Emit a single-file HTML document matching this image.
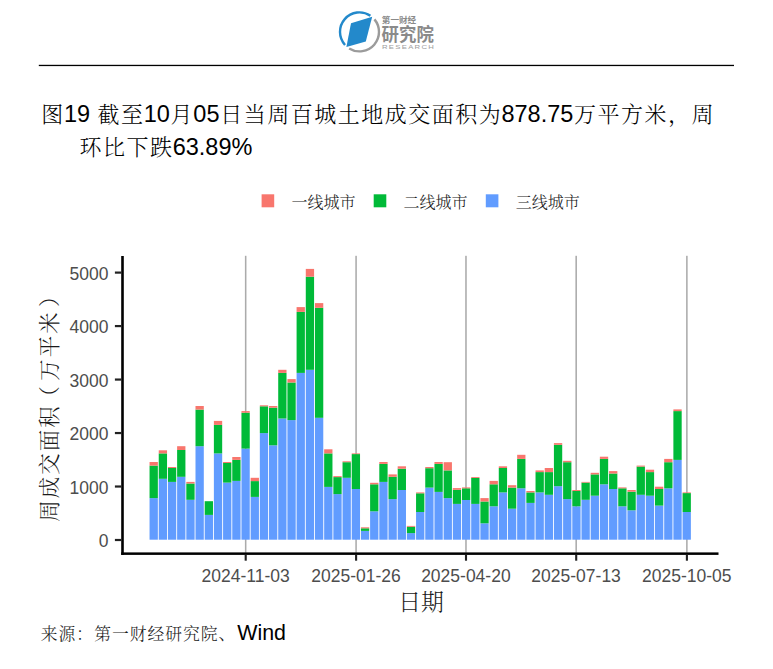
<!DOCTYPE html>
<html lang="zh-CN">
<head>
<meta charset="utf-8">
<title>图19 百城土地成交面积</title>
<style>
html,body{margin:0;padding:0;background:#fff;}
body{width:773px;height:669px;overflow:hidden;position:relative;}
svg{position:absolute;left:0;top:0;display:block;}
.cn{font-family:"Liberation Sans","Noto Serif CJK SC",serif;font-weight:300;}
.ax{font-family:"Liberation Sans",sans-serif;font-size:17.5px;fill:#4D4D4D;}
.lg{font-family:"Liberation Sans","Noto Serif CJK SC",serif;font-size:16px;fill:#1a1a1a;font-weight:300;}
.logo{font-family:"Liberation Sans","Noto Sans CJK SC",sans-serif;fill:#8a8a8a;font-weight:bold;}
</style>
</head>
<body>
<svg width="773" height="669" viewBox="0 0 773 669">
<rect x="0" y="0" width="773" height="669" fill="#ffffff"/>
<g id="logo">
<path d="M 370.40 15.73 A 19.5 19.5 0 0 0 345.01 44.95" fill="none" stroke="#2389CB" stroke-width="2.4"/>
<path d="M 374.44 19.37 A 19.5 19.5 0 0 1 349.17 48.44" fill="none" stroke="#9b9b9b" stroke-width="2.4"/>
<polygon points="351.0,23.3 372.2,16.8 365.8,41.4 346.4,47.0" fill="#2389CB"/>
<text class="logo" x="381.8" y="23.4" font-size="8.4" textLength="34.4" lengthAdjust="spacingAndGlyphs">第一财经</text>
<text class="logo" x="381.6" y="40.6" font-size="18" textLength="52.2" lengthAdjust="spacingAndGlyphs">研究院</text>
<text class="logo" transform="translate(382,48.6) scale(1.43,1)" font-size="5.4" letter-spacing="0.9" style="font-weight:normal;fill:#9c9c9c">RESEARCH</text>
</g>
<rect x="38.8" y="64.8" width="695.2" height="1.3" fill="#000"/>
<text class="cn" x="40.5" y="122.0" font-size="23.5" fill="#000"><tspan font-size="21.97" letter-spacing="1.53" dx="0.77">图</tspan><tspan font-size="23.5" dx="-0.77">19 </tspan><tspan font-size="21.97" letter-spacing="1.53" dx="0.77">截至</tspan><tspan font-size="23.5" dx="-0.77">10</tspan><tspan font-size="21.97" letter-spacing="1.53" dx="0.77">月</tspan><tspan font-size="23.5" dx="-0.77">05</tspan><tspan font-size="21.97" letter-spacing="1.53" dx="0.77">日当周百城土地成交面积为</tspan><tspan font-size="23.5" dx="-0.77">878.75</tspan><tspan font-size="21.97" letter-spacing="1.53" dx="0.77">万平方米，周</tspan></text>
<text class="cn" x="78.7" y="155.0" font-size="23.5" fill="#000"><tspan font-size="21.97" letter-spacing="1.53" dx="0.77">环比下跌</tspan><tspan font-size="23.5" dx="-0.77">63.89%</tspan></text>
<rect x="261.6" y="194.3" width="12.6" height="13" fill="#F8766D"/>
<text class="lg" x="291.5" y="208.3">一线城市</text>
<rect x="373.7" y="194.3" width="12.6" height="13" fill="#00BA38"/>
<text class="lg" x="403.6" y="208.3">二线城市</text>
<rect x="485.8" y="194.3" width="12.6" height="13" fill="#619CFF"/>
<text class="lg" x="515.7" y="208.3">三线城市</text>
<rect x="244.90" y="255.8" width="1.55" height="297" fill="#ABABAB"/>
<rect x="355.30" y="255.8" width="1.55" height="297" fill="#ABABAB"/>
<rect x="465.20" y="255.8" width="1.55" height="297" fill="#ABABAB"/>
<rect x="575.40" y="255.8" width="1.55" height="297" fill="#ABABAB"/>
<rect x="686.10" y="255.8" width="1.55" height="297" fill="#ABABAB"/>
<rect x="149.55" y="498.1" width="8.3" height="41.6" fill="#619CFF"/><rect x="149.55" y="465.6" width="8.3" height="32.5" fill="#00BA38"/><rect x="149.55" y="462.0" width="8.3" height="3.6" fill="#F8766D"/>
<rect x="158.74" y="478.8" width="8.3" height="60.9" fill="#619CFF"/><rect x="158.74" y="453.4" width="8.3" height="25.4" fill="#00BA38"/><rect x="158.74" y="450.3" width="8.3" height="3.1" fill="#F8766D"/>
<rect x="167.93" y="481.9" width="8.3" height="57.8" fill="#619CFF"/><rect x="167.93" y="468.0" width="8.3" height="13.9" fill="#00BA38"/><rect x="167.93" y="467.0" width="8.3" height="1.0" fill="#F8766D"/>
<rect x="177.12" y="476.8" width="8.3" height="62.9" fill="#619CFF"/><rect x="177.12" y="450.0" width="8.3" height="26.8" fill="#00BA38"/><rect x="177.12" y="446.2" width="8.3" height="3.8" fill="#F8766D"/>
<rect x="186.31" y="499.8" width="8.3" height="39.9" fill="#619CFF"/><rect x="186.31" y="483.5" width="8.3" height="16.3" fill="#00BA38"/><rect x="186.31" y="481.9" width="8.3" height="1.6" fill="#F8766D"/>
<rect x="195.50" y="446.2" width="8.3" height="93.5" fill="#619CFF"/><rect x="195.50" y="409.6" width="8.3" height="36.6" fill="#00BA38"/><rect x="195.50" y="406.0" width="8.3" height="3.6" fill="#F8766D"/>
<rect x="204.69" y="514.9" width="8.3" height="24.8" fill="#619CFF"/><rect x="204.69" y="501.2" width="8.3" height="13.7" fill="#00BA38"/>
<rect x="213.88" y="453.4" width="8.3" height="86.3" fill="#619CFF"/><rect x="213.88" y="424.9" width="8.3" height="28.5" fill="#00BA38"/><rect x="213.88" y="420.9" width="8.3" height="4.0" fill="#F8766D"/>
<rect x="223.07" y="482.6" width="8.3" height="57.1" fill="#619CFF"/><rect x="223.07" y="463.0" width="8.3" height="19.6" fill="#00BA38"/><rect x="223.07" y="462.0" width="8.3" height="1.0" fill="#F8766D"/>
<rect x="232.26" y="480.9" width="8.3" height="58.8" fill="#619CFF"/><rect x="232.26" y="459.9" width="8.3" height="21.0" fill="#00BA38"/><rect x="232.26" y="457.0" width="8.3" height="2.9" fill="#F8766D"/>
<rect x="241.45" y="448.6" width="8.3" height="91.1" fill="#619CFF"/><rect x="241.45" y="412.7" width="8.3" height="35.9" fill="#00BA38"/><rect x="241.45" y="411.1" width="8.3" height="1.6" fill="#F8766D"/>
<rect x="250.64" y="496.9" width="8.3" height="42.8" fill="#619CFF"/><rect x="250.64" y="481.1" width="8.3" height="15.8" fill="#00BA38"/><rect x="250.64" y="477.8" width="8.3" height="3.3" fill="#F8766D"/>
<rect x="259.83" y="433.1" width="8.3" height="106.6" fill="#619CFF"/><rect x="259.83" y="406.3" width="8.3" height="26.8" fill="#00BA38"/><rect x="259.83" y="405.3" width="8.3" height="1.0" fill="#F8766D"/>
<rect x="269.02" y="445.3" width="8.3" height="94.4" fill="#619CFF"/><rect x="269.02" y="407.7" width="8.3" height="37.6" fill="#00BA38"/><rect x="269.02" y="406.0" width="8.3" height="1.7" fill="#F8766D"/>
<rect x="278.21" y="418.5" width="8.3" height="121.2" fill="#619CFF"/><rect x="278.21" y="372.9" width="8.3" height="45.6" fill="#00BA38"/><rect x="278.21" y="369.8" width="8.3" height="3.1" fill="#F8766D"/>
<rect x="287.40" y="420.1" width="8.3" height="119.6" fill="#619CFF"/><rect x="287.40" y="382.5" width="8.3" height="37.6" fill="#00BA38"/><rect x="287.40" y="379.1" width="8.3" height="3.4" fill="#F8766D"/>
<rect x="296.59" y="372.9" width="8.3" height="166.8" fill="#619CFF"/><rect x="296.59" y="311.9" width="8.3" height="61.0" fill="#00BA38"/><rect x="296.59" y="307.1" width="8.3" height="4.8" fill="#F8766D"/>
<rect x="305.78" y="369.8" width="8.3" height="169.9" fill="#619CFF"/><rect x="305.78" y="276.7" width="8.3" height="93.1" fill="#00BA38"/><rect x="305.78" y="268.9" width="8.3" height="7.8" fill="#F8766D"/>
<rect x="314.97" y="417.8" width="8.3" height="121.9" fill="#619CFF"/><rect x="314.97" y="307.8" width="8.3" height="110.0" fill="#00BA38"/><rect x="314.97" y="303.1" width="8.3" height="4.7" fill="#F8766D"/>
<rect x="324.16" y="486.9" width="8.3" height="52.8" fill="#619CFF"/><rect x="324.16" y="453.4" width="8.3" height="33.5" fill="#00BA38"/><rect x="324.16" y="449.3" width="8.3" height="4.1" fill="#F8766D"/>
<rect x="333.35" y="494.1" width="8.3" height="45.6" fill="#619CFF"/><rect x="333.35" y="477.1" width="8.3" height="17.0" fill="#00BA38"/><rect x="333.35" y="476.1" width="8.3" height="1.0" fill="#F8766D"/>
<rect x="342.54" y="477.8" width="8.3" height="61.9" fill="#619CFF"/><rect x="342.54" y="462.2" width="8.3" height="15.6" fill="#00BA38"/><rect x="342.54" y="461.3" width="8.3" height="0.9" fill="#F8766D"/>
<rect x="351.73" y="489.0" width="8.3" height="50.7" fill="#619CFF"/><rect x="351.73" y="454.1" width="8.3" height="34.9" fill="#00BA38"/><rect x="351.73" y="453.4" width="8.3" height="0.7" fill="#F8766D"/>
<rect x="360.92" y="530.9" width="8.3" height="8.8" fill="#619CFF"/><rect x="360.92" y="528.3" width="8.3" height="2.6" fill="#00BA38"/><rect x="360.92" y="527.3" width="8.3" height="1.0" fill="#F8766D"/>
<rect x="370.11" y="511.3" width="8.3" height="28.4" fill="#619CFF"/><rect x="370.11" y="484.3" width="8.3" height="27.0" fill="#00BA38"/><rect x="370.11" y="482.8" width="8.3" height="1.5" fill="#F8766D"/>
<rect x="379.30" y="481.9" width="8.3" height="57.8" fill="#619CFF"/><rect x="379.30" y="463.9" width="8.3" height="18.0" fill="#00BA38"/><rect x="379.30" y="462.0" width="8.3" height="1.9" fill="#F8766D"/>
<rect x="388.49" y="499.1" width="8.3" height="40.6" fill="#619CFF"/><rect x="388.49" y="476.8" width="8.3" height="22.3" fill="#00BA38"/><rect x="388.49" y="474.4" width="8.3" height="2.4" fill="#F8766D"/>
<rect x="397.68" y="490.0" width="8.3" height="49.7" fill="#619CFF"/><rect x="397.68" y="468.7" width="8.3" height="21.3" fill="#00BA38"/><rect x="397.68" y="466.3" width="8.3" height="2.4" fill="#F8766D"/>
<rect x="406.87" y="533.1" width="8.3" height="6.6" fill="#619CFF"/><rect x="406.87" y="526.8" width="8.3" height="6.3" fill="#00BA38"/><rect x="406.87" y="525.9" width="8.3" height="0.9" fill="#F8766D"/>
<rect x="416.06" y="512.0" width="8.3" height="27.7" fill="#619CFF"/><rect x="416.06" y="493.3" width="8.3" height="18.7" fill="#00BA38"/><rect x="416.06" y="492.4" width="8.3" height="0.9" fill="#F8766D"/>
<rect x="425.25" y="487.6" width="8.3" height="52.1" fill="#619CFF"/><rect x="425.25" y="468.2" width="8.3" height="19.4" fill="#00BA38"/><rect x="425.25" y="467.0" width="8.3" height="1.2" fill="#F8766D"/>
<rect x="434.44" y="491.9" width="8.3" height="47.8" fill="#619CFF"/><rect x="434.44" y="463.9" width="8.3" height="28.0" fill="#00BA38"/><rect x="434.44" y="462.0" width="8.3" height="1.9" fill="#F8766D"/>
<rect x="443.63" y="498.1" width="8.3" height="41.6" fill="#619CFF"/><rect x="443.63" y="470.4" width="8.3" height="27.7" fill="#00BA38"/><rect x="443.63" y="462.2" width="8.3" height="8.2" fill="#F8766D"/>
<rect x="452.82" y="503.9" width="8.3" height="35.8" fill="#619CFF"/><rect x="452.82" y="489.8" width="8.3" height="14.1" fill="#00BA38"/><rect x="452.82" y="488.1" width="8.3" height="1.7" fill="#F8766D"/>
<rect x="462.01" y="500.0" width="8.3" height="39.7" fill="#619CFF"/><rect x="462.01" y="488.3" width="8.3" height="11.7" fill="#00BA38"/><rect x="462.01" y="487.4" width="8.3" height="0.9" fill="#F8766D"/>
<rect x="471.20" y="503.9" width="8.3" height="35.8" fill="#619CFF"/><rect x="471.20" y="478.0" width="8.3" height="25.9" fill="#00BA38"/><rect x="471.20" y="477.1" width="8.3" height="0.9" fill="#F8766D"/>
<rect x="480.39" y="523.3" width="8.3" height="16.4" fill="#619CFF"/><rect x="480.39" y="501.5" width="8.3" height="21.8" fill="#00BA38"/><rect x="480.39" y="498.1" width="8.3" height="3.4" fill="#F8766D"/>
<rect x="489.58" y="506.3" width="8.3" height="33.4" fill="#619CFF"/><rect x="489.58" y="484.3" width="8.3" height="22.0" fill="#00BA38"/><rect x="489.58" y="480.9" width="8.3" height="3.4" fill="#F8766D"/>
<rect x="498.77" y="492.4" width="8.3" height="47.3" fill="#619CFF"/><rect x="498.77" y="468.0" width="8.3" height="24.4" fill="#00BA38"/><rect x="498.77" y="466.3" width="8.3" height="1.7" fill="#F8766D"/>
<rect x="507.96" y="508.7" width="8.3" height="31.0" fill="#619CFF"/><rect x="507.96" y="487.6" width="8.3" height="21.1" fill="#00BA38"/><rect x="507.96" y="485.2" width="8.3" height="2.4" fill="#F8766D"/>
<rect x="517.15" y="488.3" width="8.3" height="51.4" fill="#619CFF"/><rect x="517.15" y="458.9" width="8.3" height="29.4" fill="#00BA38"/><rect x="517.15" y="454.8" width="8.3" height="4.1" fill="#F8766D"/>
<rect x="526.34" y="502.9" width="8.3" height="36.8" fill="#619CFF"/><rect x="526.34" y="492.4" width="8.3" height="10.5" fill="#00BA38"/><rect x="526.34" y="491.0" width="8.3" height="1.4" fill="#F8766D"/>
<rect x="535.53" y="492.4" width="8.3" height="47.3" fill="#619CFF"/><rect x="535.53" y="472.1" width="8.3" height="20.3" fill="#00BA38"/><rect x="535.53" y="470.4" width="8.3" height="1.7" fill="#F8766D"/>
<rect x="544.72" y="494.8" width="8.3" height="44.9" fill="#619CFF"/><rect x="544.72" y="472.1" width="8.3" height="22.7" fill="#00BA38"/><rect x="544.72" y="468.0" width="8.3" height="4.1" fill="#F8766D"/>
<rect x="553.91" y="486.2" width="8.3" height="53.5" fill="#619CFF"/><rect x="553.91" y="444.8" width="8.3" height="41.4" fill="#00BA38"/><rect x="553.91" y="443.1" width="8.3" height="1.7" fill="#F8766D"/>
<rect x="563.10" y="499.1" width="8.3" height="40.6" fill="#619CFF"/><rect x="563.10" y="462.2" width="8.3" height="36.9" fill="#00BA38"/><rect x="563.10" y="460.8" width="8.3" height="1.4" fill="#F8766D"/>
<rect x="572.29" y="506.3" width="8.3" height="33.4" fill="#619CFF"/><rect x="572.29" y="491.0" width="8.3" height="15.3" fill="#00BA38"/><rect x="572.29" y="490.0" width="8.3" height="1.0" fill="#F8766D"/>
<rect x="581.48" y="499.8" width="8.3" height="39.9" fill="#619CFF"/><rect x="581.48" y="482.6" width="8.3" height="17.2" fill="#00BA38"/><rect x="581.48" y="481.9" width="8.3" height="0.7" fill="#F8766D"/>
<rect x="590.67" y="495.7" width="8.3" height="44.0" fill="#619CFF"/><rect x="590.67" y="474.4" width="8.3" height="21.3" fill="#00BA38"/><rect x="590.67" y="472.8" width="8.3" height="1.6" fill="#F8766D"/>
<rect x="599.86" y="484.3" width="8.3" height="55.4" fill="#619CFF"/><rect x="599.86" y="458.9" width="8.3" height="25.4" fill="#00BA38"/><rect x="599.86" y="456.7" width="8.3" height="2.2" fill="#F8766D"/>
<rect x="609.05" y="489.0" width="8.3" height="50.7" fill="#619CFF"/><rect x="609.05" y="473.5" width="8.3" height="15.5" fill="#00BA38"/><rect x="609.05" y="471.1" width="8.3" height="2.4" fill="#F8766D"/>
<rect x="618.24" y="506.3" width="8.3" height="33.4" fill="#619CFF"/><rect x="618.24" y="488.3" width="8.3" height="18.0" fill="#00BA38"/><rect x="618.24" y="487.4" width="8.3" height="0.9" fill="#F8766D"/>
<rect x="627.43" y="510.3" width="8.3" height="29.4" fill="#619CFF"/><rect x="627.43" y="491.7" width="8.3" height="18.6" fill="#00BA38"/><rect x="627.43" y="490.0" width="8.3" height="1.7" fill="#F8766D"/>
<rect x="636.62" y="494.8" width="8.3" height="44.9" fill="#619CFF"/><rect x="636.62" y="466.6" width="8.3" height="28.2" fill="#00BA38"/><rect x="636.62" y="465.6" width="8.3" height="1.0" fill="#F8766D"/>
<rect x="645.81" y="495.7" width="8.3" height="44.0" fill="#619CFF"/><rect x="645.81" y="472.1" width="8.3" height="23.6" fill="#00BA38"/><rect x="645.81" y="469.7" width="8.3" height="2.4" fill="#F8766D"/>
<rect x="655.00" y="505.6" width="8.3" height="34.1" fill="#619CFF"/><rect x="655.00" y="489.0" width="8.3" height="16.6" fill="#00BA38"/><rect x="655.00" y="486.7" width="8.3" height="2.3" fill="#F8766D"/>
<rect x="664.19" y="488.3" width="8.3" height="51.4" fill="#619CFF"/><rect x="664.19" y="462.2" width="8.3" height="26.1" fill="#00BA38"/><rect x="664.19" y="458.9" width="8.3" height="3.3" fill="#F8766D"/>
<rect x="673.38" y="459.9" width="8.3" height="79.8" fill="#619CFF"/><rect x="673.38" y="411.1" width="8.3" height="48.8" fill="#00BA38"/><rect x="673.38" y="409.4" width="8.3" height="1.7" fill="#F8766D"/>
<rect x="682.57" y="512.0" width="8.3" height="27.7" fill="#619CFF"/><rect x="682.57" y="493.1" width="8.3" height="18.9" fill="#00BA38"/><rect x="682.57" y="492.4" width="8.3" height="0.7" fill="#F8766D"/>
<rect x="121.2" y="256" width="2.6" height="298.9" fill="#000"/>
<rect x="121.2" y="552.4" width="597.3" height="2.5" fill="#000"/>
<rect x="114.9" y="538.90" width="6.5" height="2.2" fill="#222"/><text class="ax" x="108.5" y="547.3" text-anchor="end">0</text>
<rect x="114.9" y="485.42" width="6.5" height="2.2" fill="#222"/><text class="ax" x="108.5" y="493.8" text-anchor="end">1000</text>
<rect x="114.9" y="431.94" width="6.5" height="2.2" fill="#222"/><text class="ax" x="108.5" y="440.3" text-anchor="end">2000</text>
<rect x="114.9" y="378.46" width="6.5" height="2.2" fill="#222"/><text class="ax" x="108.5" y="386.9" text-anchor="end">3000</text>
<rect x="114.9" y="324.98" width="6.5" height="2.2" fill="#222"/><text class="ax" x="108.5" y="333.4" text-anchor="end">4000</text>
<rect x="114.9" y="271.50" width="6.5" height="2.2" fill="#222"/><text class="ax" x="108.5" y="279.9" text-anchor="end">5000</text>
<rect x="244.65" y="554.8" width="2.1" height="5.9" fill="#222"/><text class="ax" x="245.6" y="581.8" text-anchor="middle">2024-11-03</text>
<rect x="355.05" y="554.8" width="2.1" height="5.9" fill="#222"/><text class="ax" x="356.0" y="581.8" text-anchor="middle">2025-01-26</text>
<rect x="464.95" y="554.8" width="2.1" height="5.9" fill="#222"/><text class="ax" x="465.9" y="581.8" text-anchor="middle">2025-04-20</text>
<rect x="575.15" y="554.8" width="2.1" height="5.9" fill="#222"/><text class="ax" x="576.1" y="581.8" text-anchor="middle">2025-07-13</text>
<rect x="685.85" y="554.8" width="2.1" height="5.9" fill="#222"/><text class="ax" x="686.8" y="581.8" text-anchor="middle">2025-10-05</text>
<text class="cn" x="421" y="609.6" font-size="22.8" text-anchor="middle" fill="#1a1a1a">日期</text>
<text class="cn" font-size="21.4" letter-spacing="2.1" text-anchor="middle" fill="#1a1a1a" transform="translate(57.2,402.6) rotate(-90)">周成交面积<tspan dx="-3.4">（</tspan><tspan dx="3.4">万平米</tspan><tspan dx="3.2">）</tspan></text>
<text class="cn" x="40.3" y="639.6" font-size="17.8" fill="#1a1a1a"><tspan font-size="16.8" letter-spacing="1.0" dx="0.5">来源：第一财经研究院、</tspan><tspan font-size="21.4" dx="0.8" fill="#000">Wind</tspan></text>
</svg>
</body>
</html>
